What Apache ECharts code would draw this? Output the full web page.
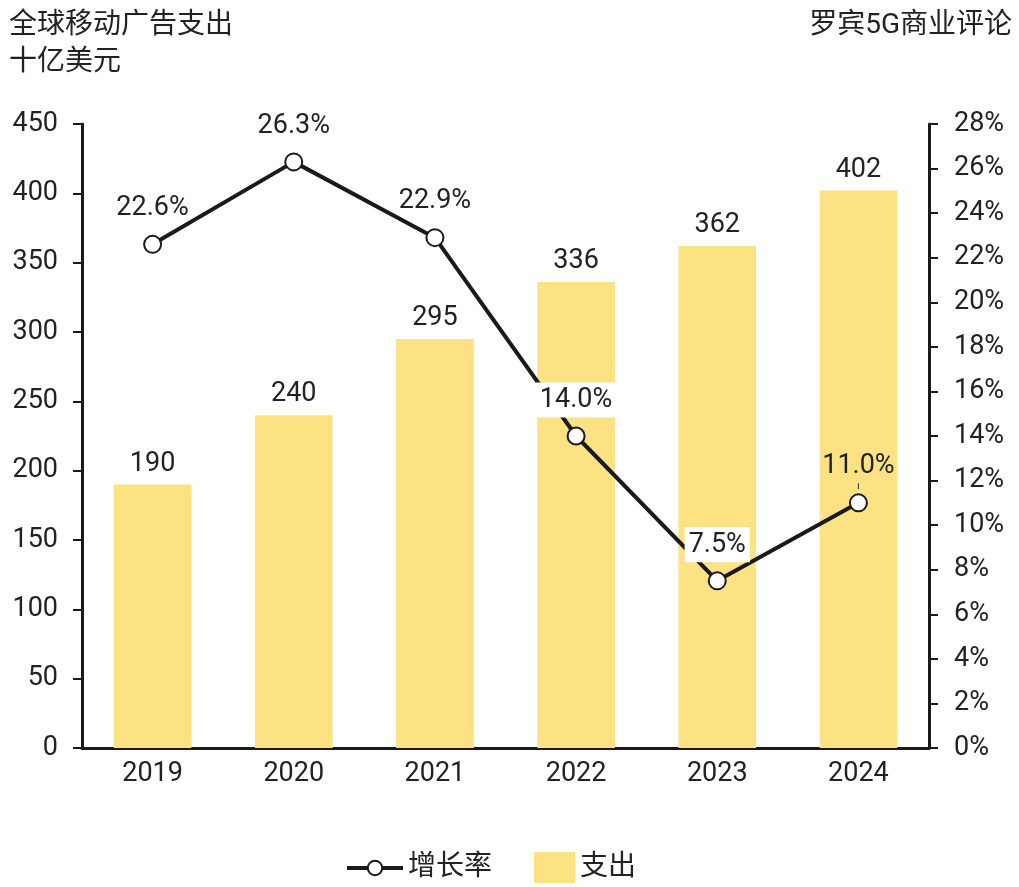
<!DOCTYPE html>
<html><head><meta charset="utf-8">
<script src="https://cdn.jsdelivr.net/npm/echarts@6/dist/echarts.min.js"></script>
<style>html,body{margin:0;padding:0;background:#fff;}#c{width:1019px;height:887px;}</style>
</head><body><div id="c"></div>
<script>
var categories = ['2019','2020','2021','2022','2023','2024'];
var spend = [190, 240, 295, 336, 362, 402];
var growth = [22.6, 26.3, 22.9, 14.0, 7.5, 11.0];
var leftTicks = [0, 450, 50];
var rightTicks = [0, 28, 2];
var titleText = '全球移动广告支出\n十亿美元';
var sourceText = '罗宾5G商业评论';
var seriesNames = ['增长率', '支出'];

var FONT = 'Roboto, "Noto Sans CJK SC", sans-serif';
var TXT = '#222';
var FS = 27;
var chart = echarts.init(document.getElementById('c'));

var growthData = growth.map(function (v, i) {
  var d = { value: v };
  if (i === 3 || i === 4) {
    d.label = { backgroundColor: '#fff' };
  }
  if (i === growth.length - 1) {
    d.label = {
      distance: 4,
      padding: 0,
      formatter: function (p) { return '{v|' + p.value.toFixed(1) + '%}\n{t|}'; },
      rich: {
        v: { fontSize: FS, fontFamily: FONT, color: TXT, lineHeight: 34, align: 'center' },
        t: { width: 1, height: 6, backgroundColor: '#333', align: 'center' }
      }
    };
  }
  return d;
});

chart.setOption({
  backgroundColor: '#fff',
  animation: false,
  textStyle: { fontFamily: FONT },
  title: [
    { text: titleText, left: 4, top: 2, textStyle: { fontSize: 28, fontWeight: 'normal', color: TXT, lineHeight: 37, fontFamily: FONT } },
    { text: sourceText, right: 2, top: 2, textStyle: { fontSize: 28, fontWeight: 'normal', color: TXT, lineHeight: 37, fontFamily: FONT } }
  ],
  legend: [
    { data: [{ name: seriesNames[0] }], left: 340, bottom: 0, itemWidth: 56, itemHeight: 18, itemGap: 10,
      lineStyle: { width: 4, color: '#1a1a1a' },
      itemStyle: { color: '#fff', borderColor: '#1a1a1a', borderWidth: 2 },
      textStyle: { fontSize: 28, color: TXT, fontFamily: FONT } },
    { data: [{ name: seriesNames[1], icon: 'rect' }], left: 529, bottom: -1, itemWidth: 41, itemHeight: 31, itemGap: 12,
      textStyle: { fontSize: 28, color: TXT, fontFamily: FONT } }
  ],
  grid: { left: 82, right: 90, top: 124, bottom: 139, containLabel: false },
  xAxis: {
    type: 'category', data: categories,
    axisLine: { lineStyle: { color: '#1a1a1a', width: 3 } },
    axisTick: { show: false },
    axisLabel: { fontSize: FS, color: TXT, margin: 13, fontFamily: FONT }
  },
  yAxis: [
    { type: 'value', min: leftTicks[0], max: leftTicks[1], interval: leftTicks[2], position: 'left',
      axisLine: { show: true, lineStyle: { color: '#1a1a1a', width: 3 } },
      axisTick: { show: true, length: 9, lineStyle: { color: '#1a1a1a', width: 2 } },
      splitLine: { show: false },
      axisLabel: { fontSize: FS, color: TXT, margin: 24, fontFamily: FONT } },
    { type: 'value', min: rightTicks[0], max: rightTicks[1], interval: rightTicks[2], position: 'right',
      axisLine: { show: true, lineStyle: { color: '#1a1a1a', width: 3 } },
      axisTick: { show: true, length: 9, lineStyle: { color: '#1a1a1a', width: 2 } },
      splitLine: { show: false },
      axisLabel: { fontSize: FS, color: TXT, margin: 25, fontFamily: FONT, formatter: '{value}%' } }
  ],
  series: [
    { name: seriesNames[1], type: 'bar', yAxisIndex: 0, data: spend, barWidth: '55%', z: 1,
      itemStyle: { color: '#FCE282' },
      label: { show: true, position: 'top', distance: 7, fontSize: FS, color: TXT, fontFamily: FONT } },
    { name: seriesNames[0], type: 'line', yAxisIndex: 1, data: growthData, z: 5,
      symbol: 'circle', symbolSize: 17,
      lineStyle: { color: '#1a1a1a', width: 4 },
      itemStyle: { color: '#fff', borderColor: '#1a1a1a', borderWidth: 2 },
      label: { show: true, position: 'top', distance: 9, fontSize: FS, color: TXT, fontFamily: FONT,
        backgroundColor: 'transparent', padding: [4, 4],
        formatter: function (p) { return p.value.toFixed(1) + '%'; } } }
  ]
});
</script></body></html>
